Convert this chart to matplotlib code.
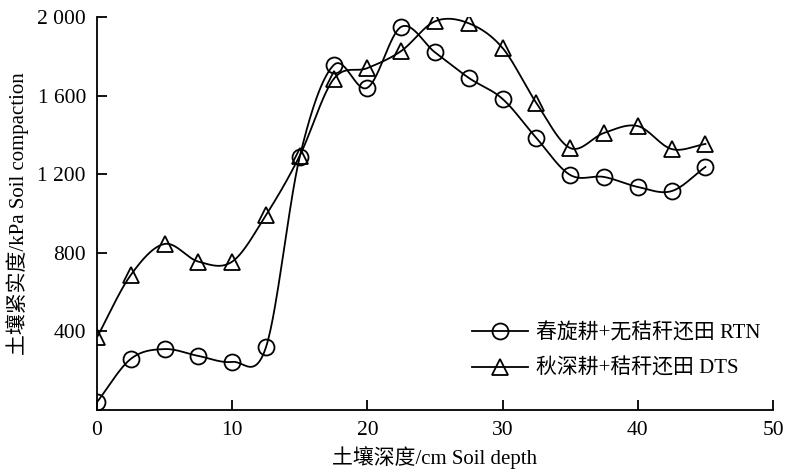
import numpy as np
import matplotlib
matplotlib.use("Agg")
import matplotlib.pyplot as plt

plt.rcParams['font.family'] = ['Liberation Serif', 'Noto Sans CJK SC']
plt.rcParams['axes.unicode_minus'] = False

depth = [0, 2.5, 5, 7.5, 10, 12.5, 15, 17.5, 20, 22.5, 25, 27.5, 30, 32.5, 35, 37.5, 40, 42.5, 45]
rtn = [40, 260, 310, 275, 245, 320, 1290, 1755, 1640, 1950, 1820, 1690, 1583, 1384, 1196, 1186, 1135, 1114, 1237]
dts = [370, 687, 845, 755, 755, 992, 1295, 1684, 1740, 1827, 1978, 1968, 1842, 1562, 1333, 1410, 1445, 1328, 1354]
label_rtn = "春旋耕+无秸秆还田 RTN"
label_dts = "秋深耕+秸秆还田 DTS"
yticks = [400, 800, 1200, 1600, 2000]
ytick_labels = ["400", "800", "1 200", "1 600", "2 000"]
xticks = [0, 10, 20, 30, 40, 50]


def smooth(x, y, n=30):
    x = np.asarray(x, float)
    y = np.asarray(y, float)
    m = np.zeros_like(y)
    m[1:-1] = (y[2:] - y[:-2]) / (x[2:] - x[:-2])
    m[0] = (y[1] - y[0]) / (x[1] - x[0])
    m[-1] = (y[-1] - y[-2]) / (x[-1] - x[-2])
    xs, ys = [], []
    for i in range(len(x) - 1):
        h = x[i + 1] - x[i]
        t = np.linspace(0, 1, n, endpoint=False)
        h00 = 2 * t**3 - 3 * t**2 + 1
        h10 = t**3 - 2 * t**2 + t
        h01 = -2 * t**3 + 3 * t**2
        h11 = t**3 - t**2
        xs.append(x[i] + t * h)
        ys.append(h00 * y[i] + h10 * h * m[i] + h01 * y[i + 1] + h11 * h * m[i + 1])
    xs.append([x[-1]])
    ys.append([y[-1]])
    return np.concatenate(xs), np.concatenate(ys)


fig = plt.figure(figsize=(7.86, 4.70), dpi=100)
ax = fig.add_axes([0.1234, 0.1277, 0.8601, 0.8361])

for y, mk, lab in [(rtn, 'o', label_rtn), (dts, '^', label_dts)]:
    sx, sy = smooth(depth, y)
    ax.plot(sx, sy, color='black', lw=1.3)
    ax.plot(depth, y, linestyle='none', marker=mk, markersize=11.5, markerfacecolor='none',
            markeredgecolor='black', markeredgewidth=1.3)
    ax.plot([], [], color='black', lw=1.3, marker=mk, markersize=11.5, markerfacecolor='none',
            markeredgecolor='black', markeredgewidth=1.3, label=lab)

ax.set_xlim(0, 50)
ax.set_ylim(0, 2000)
ax.set_xticks(xticks)
ax.set_xticklabels([str(v) for v in xticks])
ax.set_yticks(yticks)
ax.set_yticklabels(ytick_labels)
ax.spines['top'].set_visible(False)
ax.spines['right'].set_visible(False)
for s in ['left', 'bottom']:
    ax.spines[s].set_linewidth(1.3)
ax.tick_params(direction='in', length=7, width=1.3, labelsize=15.5, pad=8)
ax.set_xlabel("土壤深度/cm Soil depth", fontsize=15, labelpad=4)
ax.set_ylabel("土壤紧实度/kPa Soil compaction", fontsize=15, labelpad=6)

ax.legend(loc='center left', bbox_to_anchor=(0.543, 0.150), borderaxespad=0, frameon=False,
          fontsize=15, handlelength=2.65, handletextpad=0.4, labelspacing=0.75)

fig.savefig("out.png", dpi=100)
